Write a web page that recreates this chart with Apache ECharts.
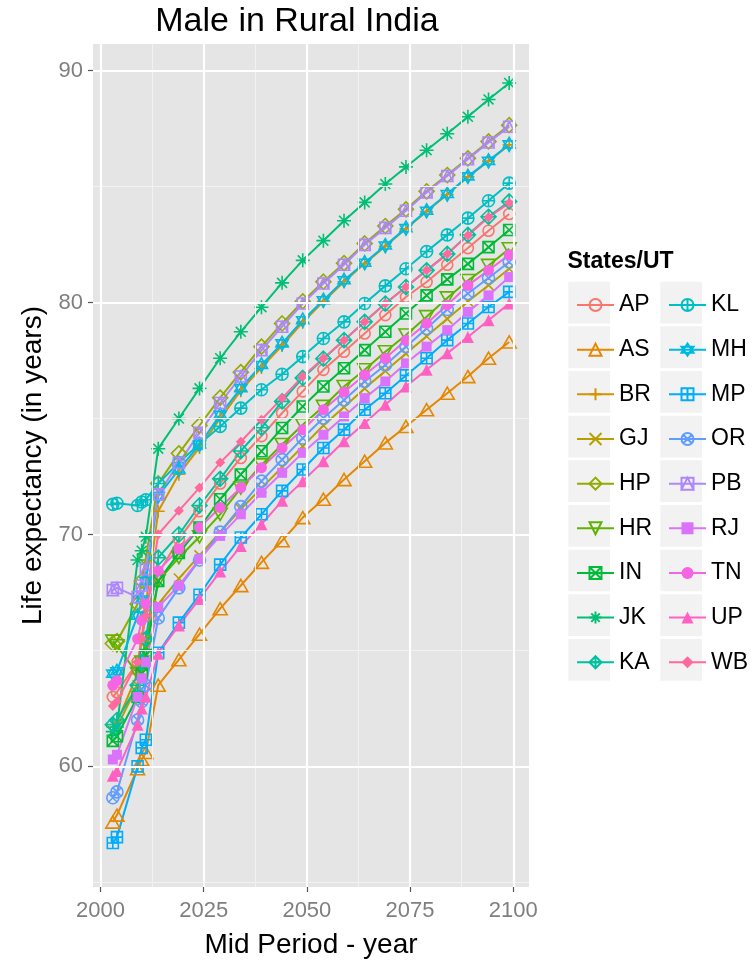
<!DOCTYPE html>
<html><head><meta charset="utf-8">
<script src="https://cdn.jsdelivr.net/npm/echarts@6/dist/echarts.min.js"></script>
<style>html,body{margin:0;padding:0;background:#fff}#c{width:755px;height:964px}</style>
</head><body><div id="c"></div>
<script>
const years = [2003, 2004, 2009, 2010, 2011, 2014, 2019, 2024, 2029, 2034, 2039, 2044, 2049, 2054, 2059, 2064, 2069, 2074, 2079, 2084, 2089, 2094, 2099];
const states = ['AP','AS','BR','GJ','HP','HR','IN','JK','KA','KL','MH','MP','OR','PB','RJ','TN','UP','WB'];
const xTicks = [2000, 2025, 2050, 2075, 2100];
const yTicks = [60, 70, 80, 90];

const AP = [63.0, 63.2, 64.5, 65.5, 66.5, 68.3, 69.8, 71.0, 72.2, 73.3, 74.24, 75.24, 76.17, 77.1, 77.88, 78.67, 79.46, 80.24, 80.89, 81.63, 82.35, 83.1, 83.82];
const AS = [57.6, 57.9, 59.9, 60.3, 60.6, 63.5, 64.6, 65.7, 66.8, 67.8, 68.8, 69.73, 70.73, 71.52, 72.37, 73.16, 73.95, 74.66, 75.38, 76.09, 76.81, 77.6, 78.3];
const BR = [61.7, 61.9, 64.0, 65.5, 67.0, 71.0, 72.6, 73.75, 75.0, 76.2, 77.2, 78.15, 79.15, 80.05, 80.9, 81.68, 82.43, 83.18, 83.93, 84.66, 85.42, 86.1, 86.8];
const GJ = [61.5, 61.7, 63.5, 64.5, 65.5, 67.0, 68.1, 69.1, 70.1, 71.1, 72.0, 72.9, 73.8, 74.7, 75.5, 76.3, 77.05, 77.8, 78.55, 79.3, 80.05, 80.75, 81.46];
const HP = [65.3, 65.4, 67.0, 68.0, 69.0, 72.2, 73.5, 74.7, 75.9, 77.0, 78.1, 79.1, 80.05, 80.9, 81.7, 82.55, 83.3, 84.02, 84.8, 85.5, 86.22, 86.95, 87.65];
const HR = [65.4, 65.2, 64.0, 64.5, 65.3, 68.0, 69.0, 69.9, 70.87, 72.0, 73.0, 73.88, 74.73, 75.52, 76.38, 77.1, 77.88, 78.6, 79.39, 80.2, 80.95, 81.6, 82.32];
const IN = [61.1, 61.3, 63.0, 64.0, 64.8, 68.0, 69.2, 70.3, 71.52, 72.59, 73.59, 74.59, 75.52, 76.38, 77.17, 77.95, 78.74, 79.53, 80.31, 81.0, 81.67, 82.39, 83.13];
const JK = [61.5, 61.7, 68.9, 69.3, 69.9, 73.7, 75.0, 76.3, 77.6, 78.74, 79.8, 80.85, 81.82, 82.67, 83.53, 84.32, 85.11, 85.85, 86.57, 87.28, 88.01, 88.76, 89.47];
const KA = [61.8, 62.0, 63.5, 64.5, 65.5, 69.0, 70.0, 71.25, 72.4, 73.6, 74.6, 75.74, 76.75, 77.58, 78.38, 79.17, 79.96, 80.67, 81.39, 82.1, 82.92, 83.7, 84.36];
const KL = [71.3, 71.35, 71.25, 71.4, 71.5, 72.2, 73.1, 73.9, 74.66, 75.45, 76.24, 76.91, 77.67, 78.45, 79.17, 79.96, 80.72, 81.46, 82.2, 82.92, 83.64, 84.39, 85.15];
const MH = [64.0, 64.1, 66.5, 67.2, 68.0, 71.66, 72.8, 73.88, 75.16, 76.31, 77.31, 78.24, 79.24, 80.1, 80.96, 81.72, 82.46, 83.21, 83.96, 84.68, 85.44, 86.11, 86.82];
const MP = [56.7, 56.95, 60.0, 60.8, 61.15, 64.9, 66.2, 67.4, 68.7, 69.87, 70.87, 71.88, 72.8, 73.73, 74.52, 75.38, 76.09, 76.86, 77.6, 78.38, 79.1, 79.81, 80.46];
const OR = [58.65, 58.9, 62.0, 62.8, 63.5, 66.4, 67.7, 68.9, 70.1, 71.2, 72.3, 73.23, 74.16, 75.02, 75.8, 76.6, 77.31, 78.1, 78.88, 79.7, 80.39, 81.06, 81.75];
const PB = [67.6, 67.7, 67.3, 67.8, 68.5, 71.73, 73.09, 74.38, 75.67, 76.81, 77.95, 78.96, 79.96, 80.82, 81.63, 82.49, 83.22, 83.96, 84.75, 85.46, 86.18, 86.9, 87.58];
const RJ = [60.3, 60.5, 63.0, 63.8, 64.5, 66.87, 67.8, 68.94, 69.94, 70.87, 71.8, 72.66, 73.52, 74.3, 75.09, 75.88, 76.6, 77.38, 78.1, 78.81, 79.6, 80.31, 81.1];
const TN = [63.5, 63.7, 65.5, 66.3, 67.0, 68.44, 69.37, 70.3, 71.16, 72.02, 72.88, 73.73, 74.52, 75.38, 76.14, 76.88, 77.6, 78.38, 79.1, 79.9, 80.74, 81.39, 82.06];
const UP = [59.6, 59.8, 61.8, 62.5, 63.0, 64.86, 66.08, 67.22, 68.4, 69.5, 70.44, 71.45, 72.3, 73.16, 74.02, 74.81, 75.59, 76.38, 77.1, 77.81, 78.52, 79.24, 79.96];
const WB = [62.6, 62.8, 64.5, 65.5, 66.5, 70.01, 71.02, 72.02, 73.1, 74.0, 74.95, 75.88, 76.81, 77.6, 78.38, 79.17, 79.96, 80.67, 81.39, 82.1, 82.89, 83.68, 84.29];

const values = {AP, AS, BR, GJ, HP, HR, IN, JK, KA, KL, MH, MP, OR, PB, RJ, TN, UP, WB};

const colors = {
  AP:'#F8766D', AS:'#E58700', BR:'#D39200', GJ:'#B79F00', HP:'#93AA00', HR:'#5EB300',
  IN:'#00BA38', JK:'#00BF74', KA:'#00C19F', KL:'#00BFC4', MH:'#00B9E3', MP:'#00ADFA',
  OR:'#619CFF', PB:'#AE87FF', RJ:'#DB72FB', TN:'#F564E3', UP:'#FF61C3', WB:'#FF699C'
};
const circ = 'M0,5A5,5,0,1,0,10,5A5,5,0,1,0,0,5Z';
const plus = 'M5,0L5,10M0,5L10,5';
const cross = 'M1.46,1.46L8.54,8.54M8.54,1.46L1.46,8.54';
const shapes = {
  AP:{s:'path://'+circ, f:false, z:11},
  AS:{s:'path://M5,0L10,8.66L0,8.66Z', f:false, z:14},
  BR:{s:'path://'+plus, f:false, z:13},
  GJ:{s:'path://M0,0L10,10M10,0L0,10', f:false, z:10},
  HP:{s:'path://M5,0L10,5L5,10L0,5Z', f:false, z:15},
  HR:{s:'path://M0,0L10,0L5,8.66Z', f:false, z:14},
  IN:{s:'path://M0,0L10,0L10,10L0,10ZM0,0L10,10M10,0L0,10', f:false, z:11},
  JK:{s:'path://'+plus+cross, f:false, z:14},
  KA:{s:'path://M5,0L10,5L5,10L0,5Z'+plus, f:false, z:15},
  KL:{s:'path://'+circ+plus, f:false, z:12},
  MH:{s:'path://M5,0L9.33,7.5L0.67,7.5ZM5,10L0.67,2.5L9.33,2.5Z', f:false, z:14},
  MP:{s:'path://M0,0L10,0L10,10L0,10Z'+plus, f:false, z:11},
  OR:{s:'path://'+circ+cross, f:false, z:12},
  PB:{s:'path://M0,0L10,0L10,10L0,10ZM5,0L10,10L0,10Z', f:false, z:11},
  RJ:{s:'rect', f:true, z:10},
  TN:{s:'circle', f:true, z:11},
  UP:{s:'triangle', f:true, z:12},
  WB:{s:'diamond', f:true, z:10}
};

const series = [];
// gridlines drawn through the library's own scales
series.push({
  type:'line', name:'_grid', data:[], z:1, silent:true,
  markLine:{
    silent:true, symbol:'none', label:{show:false}, animation:false,
    data:[
      ...[2012.5,2037.5,2062.5,2087.5].map(v=>({xAxis:v, lineStyle:{color:'#F2F2F2', width:1, type:'solid'}})),
      ...[55,65,75,85].map(v=>({yAxis:v, lineStyle:{color:'#F2F2F2', width:1, type:'solid'}})),
      ...xTicks.map(v=>({xAxis:v, lineStyle:{color:'#FFFFFF', width:2.2, type:'solid'}})),
      ...yTicks.map(v=>({yAxis:v, lineStyle:{color:'#FFFFFF', width:2.2, type:'solid'}}))
    ]
  }
});
states.forEach(st=>{
  const c = colors[st], sh = shapes[st];
  series.push({
    type:'line', name:st, z:3,
    data: years.map((y,i)=>[y, values[st][i]]),
    symbol: sh.s, symbolSize: sh.z, symbolKeepAspect:true, showAllSymbol:true,
    lineStyle:{color:c, width:2},
    itemStyle: sh.f ? {color:c, borderWidth:0} : {color:'transparent', borderColor:c, borderWidth:1.6},
    emphasis:{disabled:true}
  });
});

const FONT = '"Liberation Sans", Arial, sans-serif';
const legendBase = {
  orient:'vertical', itemWidth:37, itemHeight:15, itemGap:14.66, selectedMode:false,
  textStyle:{fontSize:23, color:'#000', fontFamily:FONT, lineHeight:30, padding:[0,0,0,0]}
};
const graphics = [
  {type:'text', x:297, y:22, z:10, style:{text:'Male in Rural India', fill:'#000', font:'34px '+FONT, textAlign:'center', textVerticalAlign:'middle', align:'center', verticalAlign:'middle'}},
  {type:'text', x:567.5, y:262, z:10, style:{text:'States/UT', fill:'#000', font:'bold 23px '+FONT, textAlign:'left', textVerticalAlign:'middle', align:'left', verticalAlign:'middle'}}
];
for (let col=0; col<2; col++) {
  for (let r=0; r<9; r++) {
    graphics.push({type:'rect', z:1, silent:true, shape:{x: col===0?568.3:660.3, y:281.7+44.66*r, width:41.7, height:41.7}, style:{fill:'#F2F2F2'}});
  }
}

const chart = echarts.init(document.getElementById('c'), null, {renderer:'canvas'});
chart.setOption({
  animation:false,
  backgroundColor:'#FFFFFF',
  grid:{left:93, right:226, top:44, bottom:75, show:true, backgroundColor:'#E5E5E5', borderWidth:0},
  xAxis:{
    type:'value', min:1998.2, max:2103.8,
    name:'Mid Period - year', nameLocation:'middle', nameGap:44,
    nameTextStyle:{fontSize:28, color:'#000', fontFamily:FONT},
    axisLine:{show:false}, splitLine:{show:false},
    axisTick:{show:true, length:5, lineStyle:{color:'#555', width:1.2}, customValues:xTicks},
    axisLabel:{customValues:xTicks, formatter:v=>String(v), color:'#7F7F7F', fontSize:22, fontFamily:FONT, margin:13}
  },
  yAxis:{
    type:'value', min:54.8, max:91.15,
    name:'Life expectancy (in years)', nameLocation:'middle', nameGap:42, nameRotate:90,
    nameTextStyle:{fontSize:28, color:'#000', fontFamily:FONT},
    axisLine:{show:false}, splitLine:{show:false},
    axisTick:{show:true, length:5, lineStyle:{color:'#555', width:1.2}, customValues:yTicks},
    axisLabel:{customValues:yTicks, formatter:v=>String(v), color:'#7F7F7F', fontSize:22, fontFamily:FONT, margin:10}
  },
  legend:[
    Object.assign({}, legendBase, {left:571, top:285, data:states.slice(0,9)}),
    Object.assign({}, legendBase, {left:663, top:285, data:states.slice(9)})
  ],
  graphic: graphics,
  series: series
});
</script></body></html>
